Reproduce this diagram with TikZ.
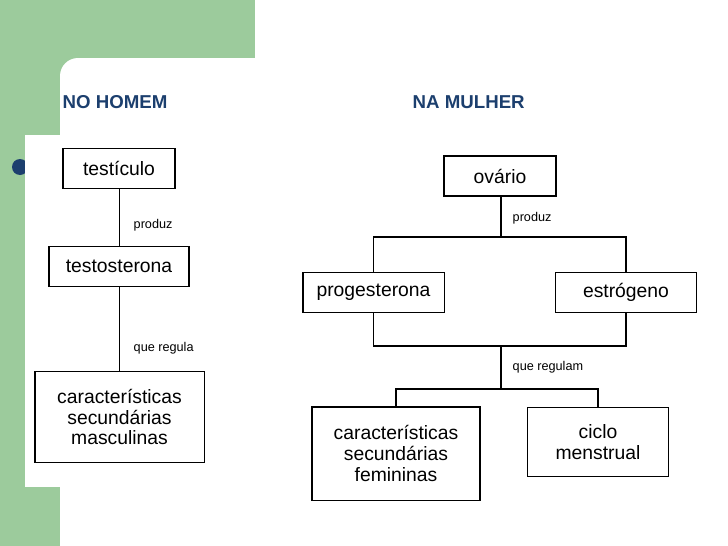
\documentclass[tikz,border=0pt]{standalone}
\usepackage{fontspec}
\setmainfont{Liberation Sans}
\usepackage{xcolor}
\definecolor{slidegreen}{HTML}{9CCB9C}
\definecolor{titleblue}{HTML}{1C3F6E}

\begin{document}
\begin{tikzpicture}[x=0.75pt,y=-0.75pt,
    box/.style={draw,line width=1pt,minimum height=30pt,align=center,font=\fontsize{14.5}{15.5}\selectfont,inner sep=0pt},
    lbl/.style={anchor=west,font=\fontsize{9.5}{11}\selectfont},
    ttl/.style={anchor=west,text=titleblue,font=\bfseries\fontsize{14}{16}\selectfont}]
  % background
  \fill[slidegreen] (0,0) rectangle (728,546);
  \fill[titleblue] (20,167) circle (8);
  \fill[white] (255,0) rectangle (728,546);
  \fill[white] (60,546) -- (60,76) arc (180:270:18) -- (728,58) -- (728,546) -- cycle;
  \fill[white] (25,135) rectangle (61,487);
  \useasboundingbox (0,0) rectangle (728,546);

  % titles
  \node[ttl] (homem) at (58,102) {NO HOMEM};
  \node[ttl] (mulher) at (408,102) {NA MULHER};

  % left tree
  \node[box,minimum width=84pt] (testiculo) at (119,168.5) {testículo};
  \node[box,minimum width=105pt] (testost) at (119,266.5) {testosterona};
  \node[box,minimum width=127pt,minimum height=68pt] (caractm) at (119.5,417)
    {características\\secundárias\\masculinas};
  \draw (testiculo) -- (testost);
  \draw (testost) -- (caractm.north -| testost.south);
  \node[lbl] (produzm) at (129,225) {produz};
  \node[lbl] (regula) at (129,348) {que regula};

  % right tree
  \node[box,minimum width=84pt] (ovario) at (500,176) {ovário};
  \node[box,minimum width=106pt] (progest) at (373.5,292.5) {progesterona};
  \node[box,minimum width=106pt] (estrog) at (626,292.5) {estrógeno};
  \node[box,minimum width=126pt,minimum height=70pt] (caractf) at (396,453.5)
    {características\\secundárias\\femininas};
  \node[box,minimum width=106pt,minimum height=52pt] (ciclo) at (598,442) {ciclo\\menstrual};
  \coordinate (split1) at (501,237);
  \coordinate (join1) at (501,346);
  \coordinate (split2) at (501,389);
  \draw[line width=2.2pt] (ovario.south -| split1) -- (split1);
  \draw[line width=2.2pt] (join1) -- (split2);
  \draw[line width=1pt] (progest.north) |- (split1) -| (estrog.north);
  \draw[line width=1.4pt] (progest.south) |- (join1) -| (estrog.south);
  \draw[line width=1pt] (caractf.north) |- (split2) -| (ciclo.north);
  \node[lbl] (produzf) at (508,218) {produz};
  \node[lbl] (regulam) at (508,367) {que regulam};
\end{tikzpicture}
\end{document}
